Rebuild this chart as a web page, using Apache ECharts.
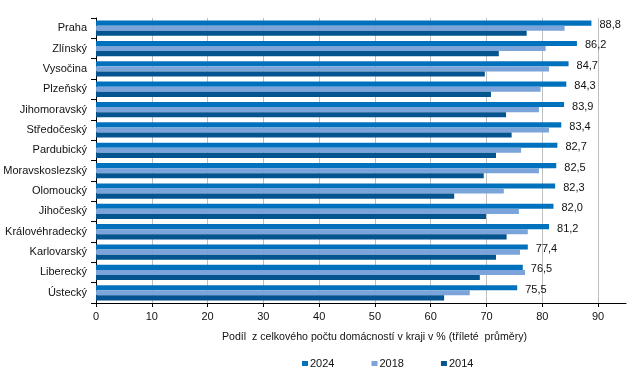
<!DOCTYPE html>
<html>
<head>
<meta charset="utf-8">
<script src="https://cdn.jsdelivr.net/npm/echarts@6/dist/echarts.min.js"></script>
<style>html,body{margin:0;padding:0;background:#fff}#c{width:644px;height:386px}</style>
</head>
<body>
<div id="c"></div>
<script>
const categories = ['Praha','Zlínský','Vysočina','Plzeňský','Jihomoravský','Středočeský','Pardubický','Moravskoslezský','Olomoucký','Jihočeský','Královéhradecký','Karlovarský','Liberecký','Ústecký'];
const values2024 = [88.8,86.2,84.7,84.3,83.9,83.4,82.7,82.5,82.3,82.0,81.2,77.4,76.5,75.5];
const values2018 = [84.0,80.6,81.2,79.7,79.4,81.2,76.2,79.4,73.1,75.8,77.4,76.0,76.9,67.0];
const values2014 = [77.2,72.2,69.7,70.8,73.5,74.5,71.7,69.5,64.2,69.9,73.6,71.7,68.8,62.4];
const xTicks = [0,10,20,30,40,50,60,70,80,90];
const seriesNames = ['2024','2018','2014'];
const axisTitle = 'Podíl  z celkového počtu domácností v kraji v % (tříleté  průměry)';

const font = '"Liberation Sans", Arial, sans-serif';
const txt = '#111';
const chart = echarts.init(document.getElementById('c'), null, {renderer:'canvas'});
const colors = ['#0071bc','#7ba5da','#04558f'];
const data = [values2024, values2018, values2014];
chart.setOption({
  animation:false,
  color: colors,
  grid:{left:96, right:18, top:18, bottom:83, containLabel:false},
  legend:{
    data: seriesNames, bottom:12, left:297, itemWidth:6, itemHeight:5, itemGap:37,
    icon:'rect', textStyle:{fontFamily:font, fontSize:11, color:txt, padding:[0,0,0,-3]}
  },
  xAxis:{
    type:'value', min:0, max:95, interval:10,
    name: axisTitle, nameLocation:'middle', nameGap:29,
    nameTextStyle:{fontFamily:font, fontSize:10.6, color:txt, padding:[0,0,0,27]},
    axisLine:{show:true, lineStyle:{color:'#000', width:1}},
    axisTick:{show:true, length:4, lineStyle:{color:'#000'}},
    axisLabel:{fontFamily:font, fontSize:11, color:txt, margin:8, showMaxLabel:false,
      formatter: v => xTicks.includes(v) ? String(v) : ''},
    splitLine:{show:true, showMinLine:false, showMaxLine:false, lineStyle:{color:'#bfbfbf', width:1}}
  },
  yAxis:{
    type:'category', data: categories, inverse:true,
    axisLine:{show:true, lineStyle:{color:'#000', width:1}},
    axisTick:{show:true, length:5, lineStyle:{color:'#000'}},
    axisLabel:{fontFamily:font, fontSize:11, color:txt, margin:9},
    splitLine:{show:false}
  },
  series: seriesNames.map((n,i)=>({
    name:n, type:'bar', data:data[i], barGap:'0%', barCategoryGap:'25%',
    label: i===0 ? {show:true, position:'right', distance:8, offset:[0,2],
      fontFamily:font, fontSize:11, color:txt,
      formatter: p => p.value.toFixed(1).replace('.',',')} : {show:false}
  }))
});
</script>
</body>
</html>
